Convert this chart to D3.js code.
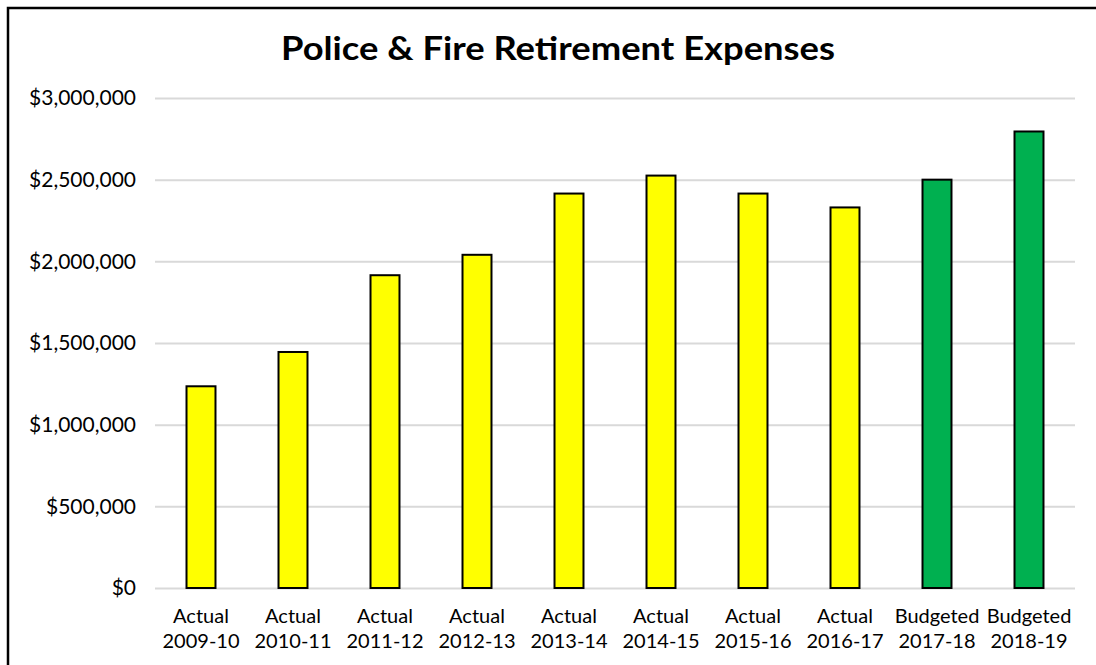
<!DOCTYPE html>
<html><head><meta charset="utf-8">
<script src="https://cdn.jsdelivr.net/npm/d3@7"></script>
<style>body{margin:0;background:#fff;} svg{display:block;}</style>
</head><body>
<script>
const categories = ["Actual 2009-10","Actual 2010-11","Actual 2011-12","Actual 2012-13","Actual 2013-14","Actual 2014-15","Actual 2015-16","Actual 2016-17","Budgeted 2017-18","Budgeted 2018-19"];
const values = [1235000,1445000,1915000,2040000,2415000,2525000,2415000,2330000,2500000,2795000];
const seriesType = ["Actual","Actual","Actual","Actual","Actual","Actual","Actual","Actual","Budgeted","Budgeted"];
const yTicks = [0,500000,1000000,1500000,2000000,2500000,3000000];
const title = "Police & Fire Retirement Expenses";

const W=1096,H=665;
const svg=d3.select("body").append("svg").attr("width",W).attr("height",H);
svg.append("rect").attr("x",8).attr("y",8).attr("width",W+10).attr("height",H+10)
  .attr("fill","#fff").attr("stroke","#000").attr("stroke-width",2.5);

const font="Lato, 'Open Sans', sans-serif";
const x=d3.scaleBand().domain(categories).range([155,1075]).paddingInner(0.685).paddingOuter(0.3425);
const y=d3.scaleLinear().domain([0,3000000]).range([588,98]);

svg.append("text").attr("x",558).attr("y",60).attr("text-anchor","middle")
  .attr("font-family",font).attr("font-weight","bold").attr("font-size",32)
  .attr("textLength",554).attr("lengthAdjust","spacingAndGlyphs").attr("fill","#000").text(title);

const ya=svg.append("g").attr("transform","translate(155,0)")
  .call(d3.axisLeft(y).tickValues(yTicks).tickSize(-920).tickPadding(19).tickFormat(d=>"$"+d3.format(",")(d)));
ya.select(".domain").remove();
ya.selectAll(".tick line").attr("stroke","#d9d9d9").attr("stroke-width",2);
ya.selectAll(".tick text").attr("font-family",font).attr("font-size",21).attr("fill","#000");

const colors={Actual:"#ffff00",Budgeted:"#00b050"};
svg.append("g").selectAll("rect").data(values).join("rect")
  .attr("x",(d,i)=>x(categories[i])).attr("width",x.bandwidth())
  .attr("y",d=>y(d)).attr("height",d=>y(0)-y(d))
  .attr("fill",(d,i)=>colors[seriesType[i]]).attr("stroke","#000").attr("stroke-width",2);

const xa=svg.append("g");
categories.forEach(c=>{
  const parts=c.split(" ");
  const t=xa.append("text").attr("text-anchor","middle").attr("font-family",font).attr("font-size",20).attr("fill","#000");
  t.append("tspan").attr("x",x(c)+x.bandwidth()/2).attr("y",623).text(parts[0]);
  t.append("tspan").attr("x",x(c)+x.bandwidth()/2).attr("y",648).text(parts[1]);
});
</script>
</body></html>
